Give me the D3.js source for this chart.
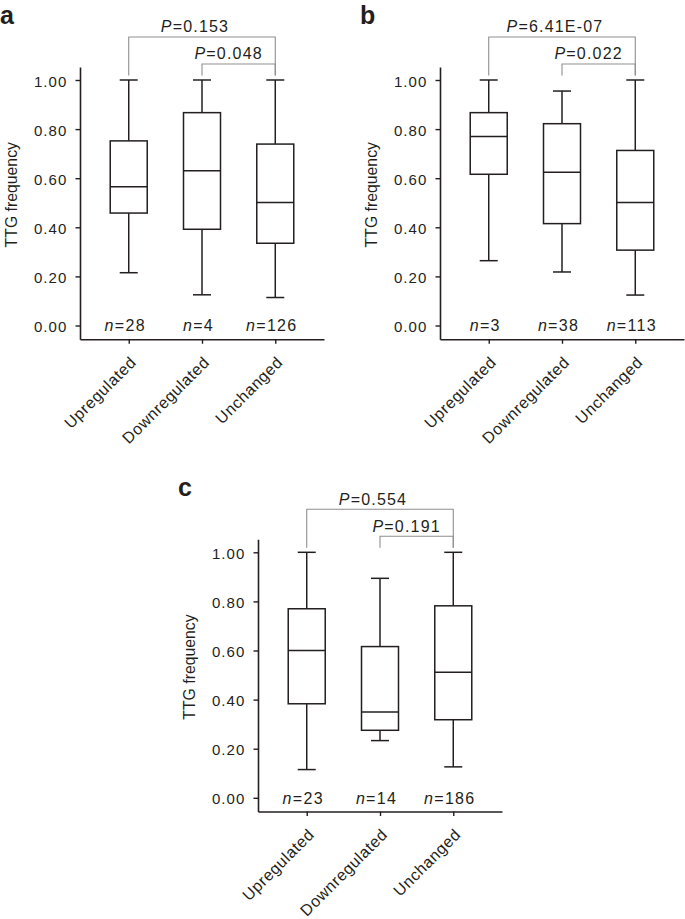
<!DOCTYPE html>
<html>
<head>
<meta charset="utf-8">
<script src="https://cdnjs.cloudflare.com/ajax/libs/d3/7.8.5/d3.min.js"></script>
<style>
  html, body { margin: 0; padding: 0; background: #fff; }
  svg { display: block; }
  text { font-family: "Liberation Sans", Arial, Helvetica, sans-serif; fill: #231f20; }
</style>
</head>
<body>
<svg id="chart" width="685" height="919"></svg>
<script>
// ---------------- DATA ----------------
const categories = ["Upregulated", "Downregulated", "Unchanged"];
const panelLetters = ["a", "b", "c"];
const yTicks = [0, 0.2, 0.4, 0.6, 0.8, 1.0];
// box stats per category: [lower whisker, Q1, median, Q3, upper whisker]
const statsA = [[0.215, 0.458, 0.565, 0.752, 1.00], [0.125, 0.392, 0.630, 0.867, 1.00], [0.114, 0.335, 0.501, 0.739, 1.00]];
const statsB = [[0.264, 0.616, 0.770, 0.867, 1.00], [0.218, 0.415, 0.624, 0.822, 0.955], [0.124, 0.307, 0.501, 0.713, 1.00]];
const statsC = [[0.115, 0.383, 0.600, 0.770, 1.00], [0.233, 0.275, 0.350, 0.616, 0.894], [0.126, 0.318, 0.511, 0.782, 1.00]];
const countsA = [28, 4, 126];
const countsB = [3, 38, 113];
const countsC = [23, 14, 186];
// P values: outer = Upregulated vs Unchanged, inner = Downregulated vs Unchanged
const pOuter = ["0.153", "6.41E-07", "0.554"];
const pInner = ["0.048", "0.022", "0.191"];
const yLabel = "TTG frequency";

// ---------------- LAYOUT ----------------
const panels = [
  { stats: statsA, counts: countsA, ax: 80,  y1: 80 },
  { stats: statsB, counts: countsB, ax: 440, y1: 80 },
  { stats: statsC, counts: countsC, ax: 258, y1: 552.3 }
];
const unitH = 245.5;      // px per 1.0
const axisW = 244;
const yDomain = [-0.056, 1.053];
const boxW = 37, capW = 18;
const ink = "#231f20", grey = "#8f8f8f";

const svg = d3.select("#chart");

panels.forEach((p, i) => {
  const g = svg.append("g");
  const y = d3.scaleLinear()
    .domain(yDomain)
    .range([p.y1 + (1 - yDomain[0]) * unitH, p.y1 - (yDomain[1] - 1) * unitH]);
  const x = d3.scalePoint().domain(categories).range([p.ax, p.ax + axisW]).padding(0.665);
  const yBase = y(yDomain[0]);

  // y axis
  const yAx = g.append("g").attr("transform", `translate(${p.ax},0)`)
    .call(d3.axisLeft(y).tickValues(yTicks).tickFormat(d3.format(".2f")).tickSizeInner(4.5).tickSizeOuter(0).tickPadding(8));
  yAx.select(".domain").attr("stroke", ink).attr("stroke-width", 1.6);
  yAx.selectAll(".tick line").attr("stroke", ink).attr("stroke-width", 1.4);
  yAx.selectAll(".tick text").attr("font-size", 15).attr("letter-spacing", "1.1px").attr("fill", ink)
    .attr("font-family", '"Liberation Sans", Arial, sans-serif').attr("dy", "0.4em");

  // x axis
  const xAx = g.append("g").attr("transform", `translate(0,${yBase})`)
    .call(d3.axisBottom(x).tickSizeInner(4.5).tickSizeOuter(0).tickPadding(0));
  xAx.select(".domain").attr("stroke", ink).attr("stroke-width", 1.6);
  xAx.selectAll(".tick line").attr("stroke", ink).attr("stroke-width", 1.4);
  xAx.selectAll(".tick text")
    .attr("font-size", 16).attr("letter-spacing", "0.6px").attr("fill", ink)
    .attr("font-family", '"Liberation Sans", Arial, sans-serif')
    .attr("text-anchor", "end").attr("y", 0).attr("dy", 0)
    .attr("transform", "translate(8,24) rotate(-45)");

  // y title
  g.append("text")
    .attr("transform", `translate(${p.ax - 63},${y(0.5) - 8}) rotate(-90)`)
    .attr("text-anchor", "middle").attr("font-size", 15.8)
    .text(yLabel);

  // panel letter
  g.append("text").attr("x", p.ax - 80).attr("y", p.y1 - 56)
    .attr("font-size", 25).attr("font-weight", "bold").text(panelLetters[i]);

  // boxes
  const boxes = g.selectAll(".box").data(p.stats).join("g").attr("class", "box")
    .attr("transform", (d, j) => `translate(${x(categories[j])},0)`);
  boxes.append("line").attr("x1", 0).attr("x2", 0)
    .attr("y1", d => y(d[4])).attr("y2", d => y(d[3])).attr("stroke", ink).attr("stroke-width", 1.5);
  boxes.append("line").attr("x1", 0).attr("x2", 0)
    .attr("y1", d => y(d[1])).attr("y2", d => y(d[0])).attr("stroke", ink).attr("stroke-width", 1.5);
  boxes.append("line").attr("x1", -capW / 2).attr("x2", capW / 2)
    .attr("y1", d => y(d[4])).attr("y2", d => y(d[4])).attr("stroke", ink).attr("stroke-width", 1.5);
  boxes.append("line").attr("x1", -capW / 2).attr("x2", capW / 2)
    .attr("y1", d => y(d[0])).attr("y2", d => y(d[0])).attr("stroke", ink).attr("stroke-width", 1.5);
  boxes.append("rect").attr("x", -boxW / 2).attr("width", boxW)
    .attr("y", d => y(d[3])).attr("height", d => y(d[1]) - y(d[3]))
    .attr("fill", "#fff").attr("stroke", ink).attr("stroke-width", 1.5);
  boxes.append("line").attr("x1", -boxW / 2).attr("x2", boxW / 2)
    .attr("y1", d => y(d[2])).attr("y2", d => y(d[2])).attr("stroke", ink).attr("stroke-width", 1.5);

  // n labels
  const nt = g.selectAll(".nlab").data(p.counts).join("text").attr("class", "nlab")
    .attr("x", (d, j) => x(categories[j]) - 3.5).attr("y", y(0) + 5.8)
    .attr("text-anchor", "middle").attr("font-size", 16).attr("letter-spacing", "1.3px");
  nt.append("tspan").attr("font-style", "italic").text("n");
  nt.append("tspan").text(d => "=" + d);

  // brackets
  const bBottom = y(1) - 4.5;
  const brackets = [
    { from: categories[0], to: categories[2], level: y(1) - 43, label: pOuter[i], shift: -7 },
    { from: categories[1], to: categories[2], level: y(1) - 16, label: pInner[i], shift: -10 }
  ];
  brackets.forEach(b => {
    const x0 = x(b.from), x1 = x(b.to);
    g.append("path")
      .attr("d", `M${x0},${bBottom}V${b.level}H${x1}V${bBottom}`)
      .attr("fill", "none").attr("stroke", grey).attr("stroke-width", 1.1);
    const t = g.append("text").attr("x", (x0 + x1) / 2 + b.shift).attr("y", b.level - 4.8)
      .attr("text-anchor", "middle").attr("font-size", 16).attr("letter-spacing", "1.2px");
    t.append("tspan").attr("font-style", "italic").text("P");
    t.append("tspan").text("=" + b.label);
  });
});
</script>
</body>
</html>
